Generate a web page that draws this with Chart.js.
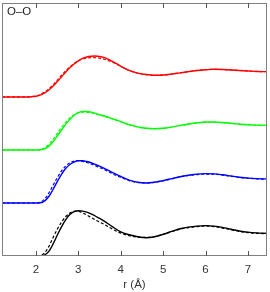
<!DOCTYPE html>
<html>
<head>
<meta charset="utf-8">
<script src="https://cdn.jsdelivr.net/npm/chart.js@4"></script>
<style>
  html, body { margin: 0; padding: 0; background: #fff; }
  #wrap { width: 270px; height: 292px; }
</style>
</head>
<body>
<div id="wrap"><canvas id="rdf"></canvas></div>
<script>
// r grid (Å), shared by every curve
const rValues = [1.2, 1.8, 1.9, 2.0, 2.1, 2.2, 2.3, 2.4, 2.5, 2.6, 2.7, 2.8, 2.9, 3.0, 3.1, 3.2, 3.3, 3.4, 3.5, 3.6,
  3.8, 4.0, 4.2, 4.4, 4.6, 4.8, 5.0, 5.2, 5.4, 5.6, 5.8, 6.0, 6.2, 6.4, 6.6, 6.8, 7.0, 7.2, 7.45];

const blackSolid = [0, 0, 0, 0, 0, 0.04, 0.18, 0.48, 0.85, 1.2, 1.5, 1.72, 1.84, 1.875, 1.86, 1.82, 1.75, 1.66, 1.56, 1.46,
  1.22, 1.0, 0.88, 0.8, 0.76, 0.8, 0.9, 1.02, 1.13, 1.2, 1.24, 1.26, 1.24, 1.19, 1.11, 1.04, 0.99, 0.96, 0.94];
const blackDashed = [0, 0, 0, 0, 0.02, 0.12, 0.38, 0.75, 1.1, 1.4, 1.63, 1.78, 1.85, 1.85, 1.79, 1.7, 1.6, 1.5, 1.41, 1.32,
  1.12, 0.95, 0.84, 0.78, 0.77, 0.81, 0.9, 1.01, 1.11, 1.18, 1.22, 1.24, 1.22, 1.16, 1.09, 1.02, 0.97, 0.94, 0.93];

const blueSolid = [0, 0, 0, 0, 0.01, 0.08, 0.26, 0.55, 0.88, 1.18, 1.43, 1.6, 1.7, 1.75, 1.75, 1.72, 1.67, 1.6, 1.53, 1.45,
  1.27, 1.1, 0.95, 0.86, 0.83, 0.86, 0.93, 1.01, 1.09, 1.15, 1.2, 1.22, 1.21, 1.17, 1.12, 1.07, 1.03, 1.01, 1.0];
const blueDashed = [0, 0, 0, 0, 0.03, 0.15, 0.4, 0.72, 1.04, 1.32, 1.53, 1.67, 1.74, 1.76, 1.73, 1.68, 1.62, 1.55, 1.47, 1.4,
  1.22, 1.06, 0.93, 0.85, 0.83, 0.86, 0.92, 1.0, 1.08, 1.14, 1.18, 1.2, 1.2, 1.16, 1.11, 1.06, 1.03, 1.0, 0.99];

const greenSolid = [0, 0, 0, 0, 0.01, 0.05, 0.15, 0.33, 0.57, 0.82, 1.06, 1.27, 1.44, 1.55, 1.6, 1.6, 1.57, 1.52, 1.47, 1.42,
  1.3, 1.18, 1.05, 0.96, 0.9, 0.88, 0.9, 0.95, 1.02, 1.08, 1.13, 1.16, 1.16, 1.14, 1.11, 1.07, 1.05, 1.03, 1.02];
const greenDashed = [0, 0, 0, 0, 0.02, 0.08, 0.22, 0.43, 0.68, 0.93, 1.15, 1.33, 1.46, 1.54, 1.57, 1.57, 1.55, 1.5, 1.45, 1.4,
  1.29, 1.17, 1.04, 0.95, 0.9, 0.88, 0.9, 0.95, 1.01, 1.07, 1.12, 1.15, 1.15, 1.13, 1.1, 1.07, 1.05, 1.03, 1.02];

const redSolid = [0, 0, 0.01, 0.03, 0.08, 0.16, 0.28, 0.44, 0.63, 0.83, 1.03, 1.21, 1.37, 1.5, 1.6, 1.66, 1.69, 1.7, 1.68, 1.64,
  1.48, 1.28, 1.1, 0.99, 0.93, 0.9, 0.91, 0.95, 1.0, 1.05, 1.1, 1.13, 1.15, 1.14, 1.12, 1.1, 1.08, 1.06, 1.05];
const redDashed = [0, 0, 0.02, 0.04, 0.1, 0.2, 0.33, 0.5, 0.69, 0.89, 1.08, 1.25, 1.39, 1.5, 1.57, 1.61, 1.63, 1.63, 1.61, 1.57,
  1.45, 1.27, 1.1, 0.99, 0.93, 0.9, 0.91, 0.95, 1.0, 1.05, 1.1, 1.13, 1.15, 1.14, 1.12, 1.1, 1.08, 1.06, 1.05];

// vertical shift of each stacked curve, bottom to top
const offsets = [0, 2.2, 4.4, 6.6];
const xTicks = [2, 3, 4, 5, 6, 7];

const curves = [
  { color: '#000000', solid: blackSolid, dashed: blackDashed },
  { color: '#0000ff', solid: blueSolid, dashed: blueDashed },
  { color: '#00ff00', solid: greenSolid, dashed: greenDashed },
  { color: '#ff0000', solid: redSolid, dashed: redDashed }
];

function toPoints(vals, shift) {
  return rValues.map((r, i) => ({ x: r, y: vals[i] + shift }));
}

const datasets = [];
curves.forEach((c, i) => {
  datasets.push({
    data: toPoints(c.solid, offsets[i]),
    borderColor: c.color,
    borderWidth: 1.4
  });
  datasets.push({
    data: toPoints(c.dashed, offsets[i]),
    borderColor: c.color,
    borderWidth: 1.2,
    borderDash: [3, 2]
  });
});

const fontFamily = '"Liberation Sans", Arial, sans-serif';

// box frame, inward ticks and panel label
const framePlugin = {
  id: 'framePlugin',
  afterDatasetsDraw(chart) {
    const { ctx, chartArea: a, scales: { x } } = chart;
    ctx.save();
    ctx.strokeStyle = '#808080';
    ctx.lineWidth = 1;
    ctx.strokeRect(a.left + 0.5, a.top + 0.5, a.right - a.left - 1, a.bottom - a.top - 1);
    ctx.strokeStyle = '#555';
    xTicks.forEach(v => {
      const px = Math.round(x.getPixelForValue(v)) + 0.5;
      ctx.beginPath();
      ctx.moveTo(px, a.bottom);
      ctx.lineTo(px, a.bottom - 5);
      ctx.moveTo(px, a.top);
      ctx.lineTo(px, a.top + 5);
      ctx.stroke();
    });
    ctx.fillStyle = '#222';
    ctx.font = '11.5px ' + fontFamily;
    ctx.textBaseline = 'middle';
    ctx.fillText('O–O', a.left + 5, a.top + 9);
    ctx.restore();
  }
};

new Chart(document.getElementById('rdf'), {
  type: 'line',
  data: { datasets: datasets },
  options: {
    responsive: true,
    maintainAspectRatio: false,
    animation: false,
    layout: { padding: { left: 2, right: 3, top: 3, bottom: 0 } },
    elements: {
      point: { radius: 0 },
      line: { cubicInterpolationMode: 'monotone', fill: false }
    },
    plugins: {
      legend: { display: false },
      tooltip: { enabled: false }
    },
    scales: {
      x: {
        type: 'linear',
        min: 1.2,
        max: 7.45,
        grid: { display: false },
        border: { display: false },
        afterBuildTicks: axis => { axis.ticks = xTicks.map(v => ({ value: v })); },
        afterFit: axis => { axis.height = 36; },
        ticks: {
          padding: -1,
          color: '#333',
          font: { family: fontFamily, size: 11.5 },
          maxRotation: 0
        },
        title: {
          display: true,
          text: 'r (Å)',
          color: '#333',
          padding: { top: 0, bottom: 0 },
          font: { family: fontFamily, size: 11.5 }
        }
      },
      y: {
        display: false,
        min: 0,
        max: 10.5
      }
    }
  },
  plugins: [framePlugin]
});
</script>
</body>
</html>
